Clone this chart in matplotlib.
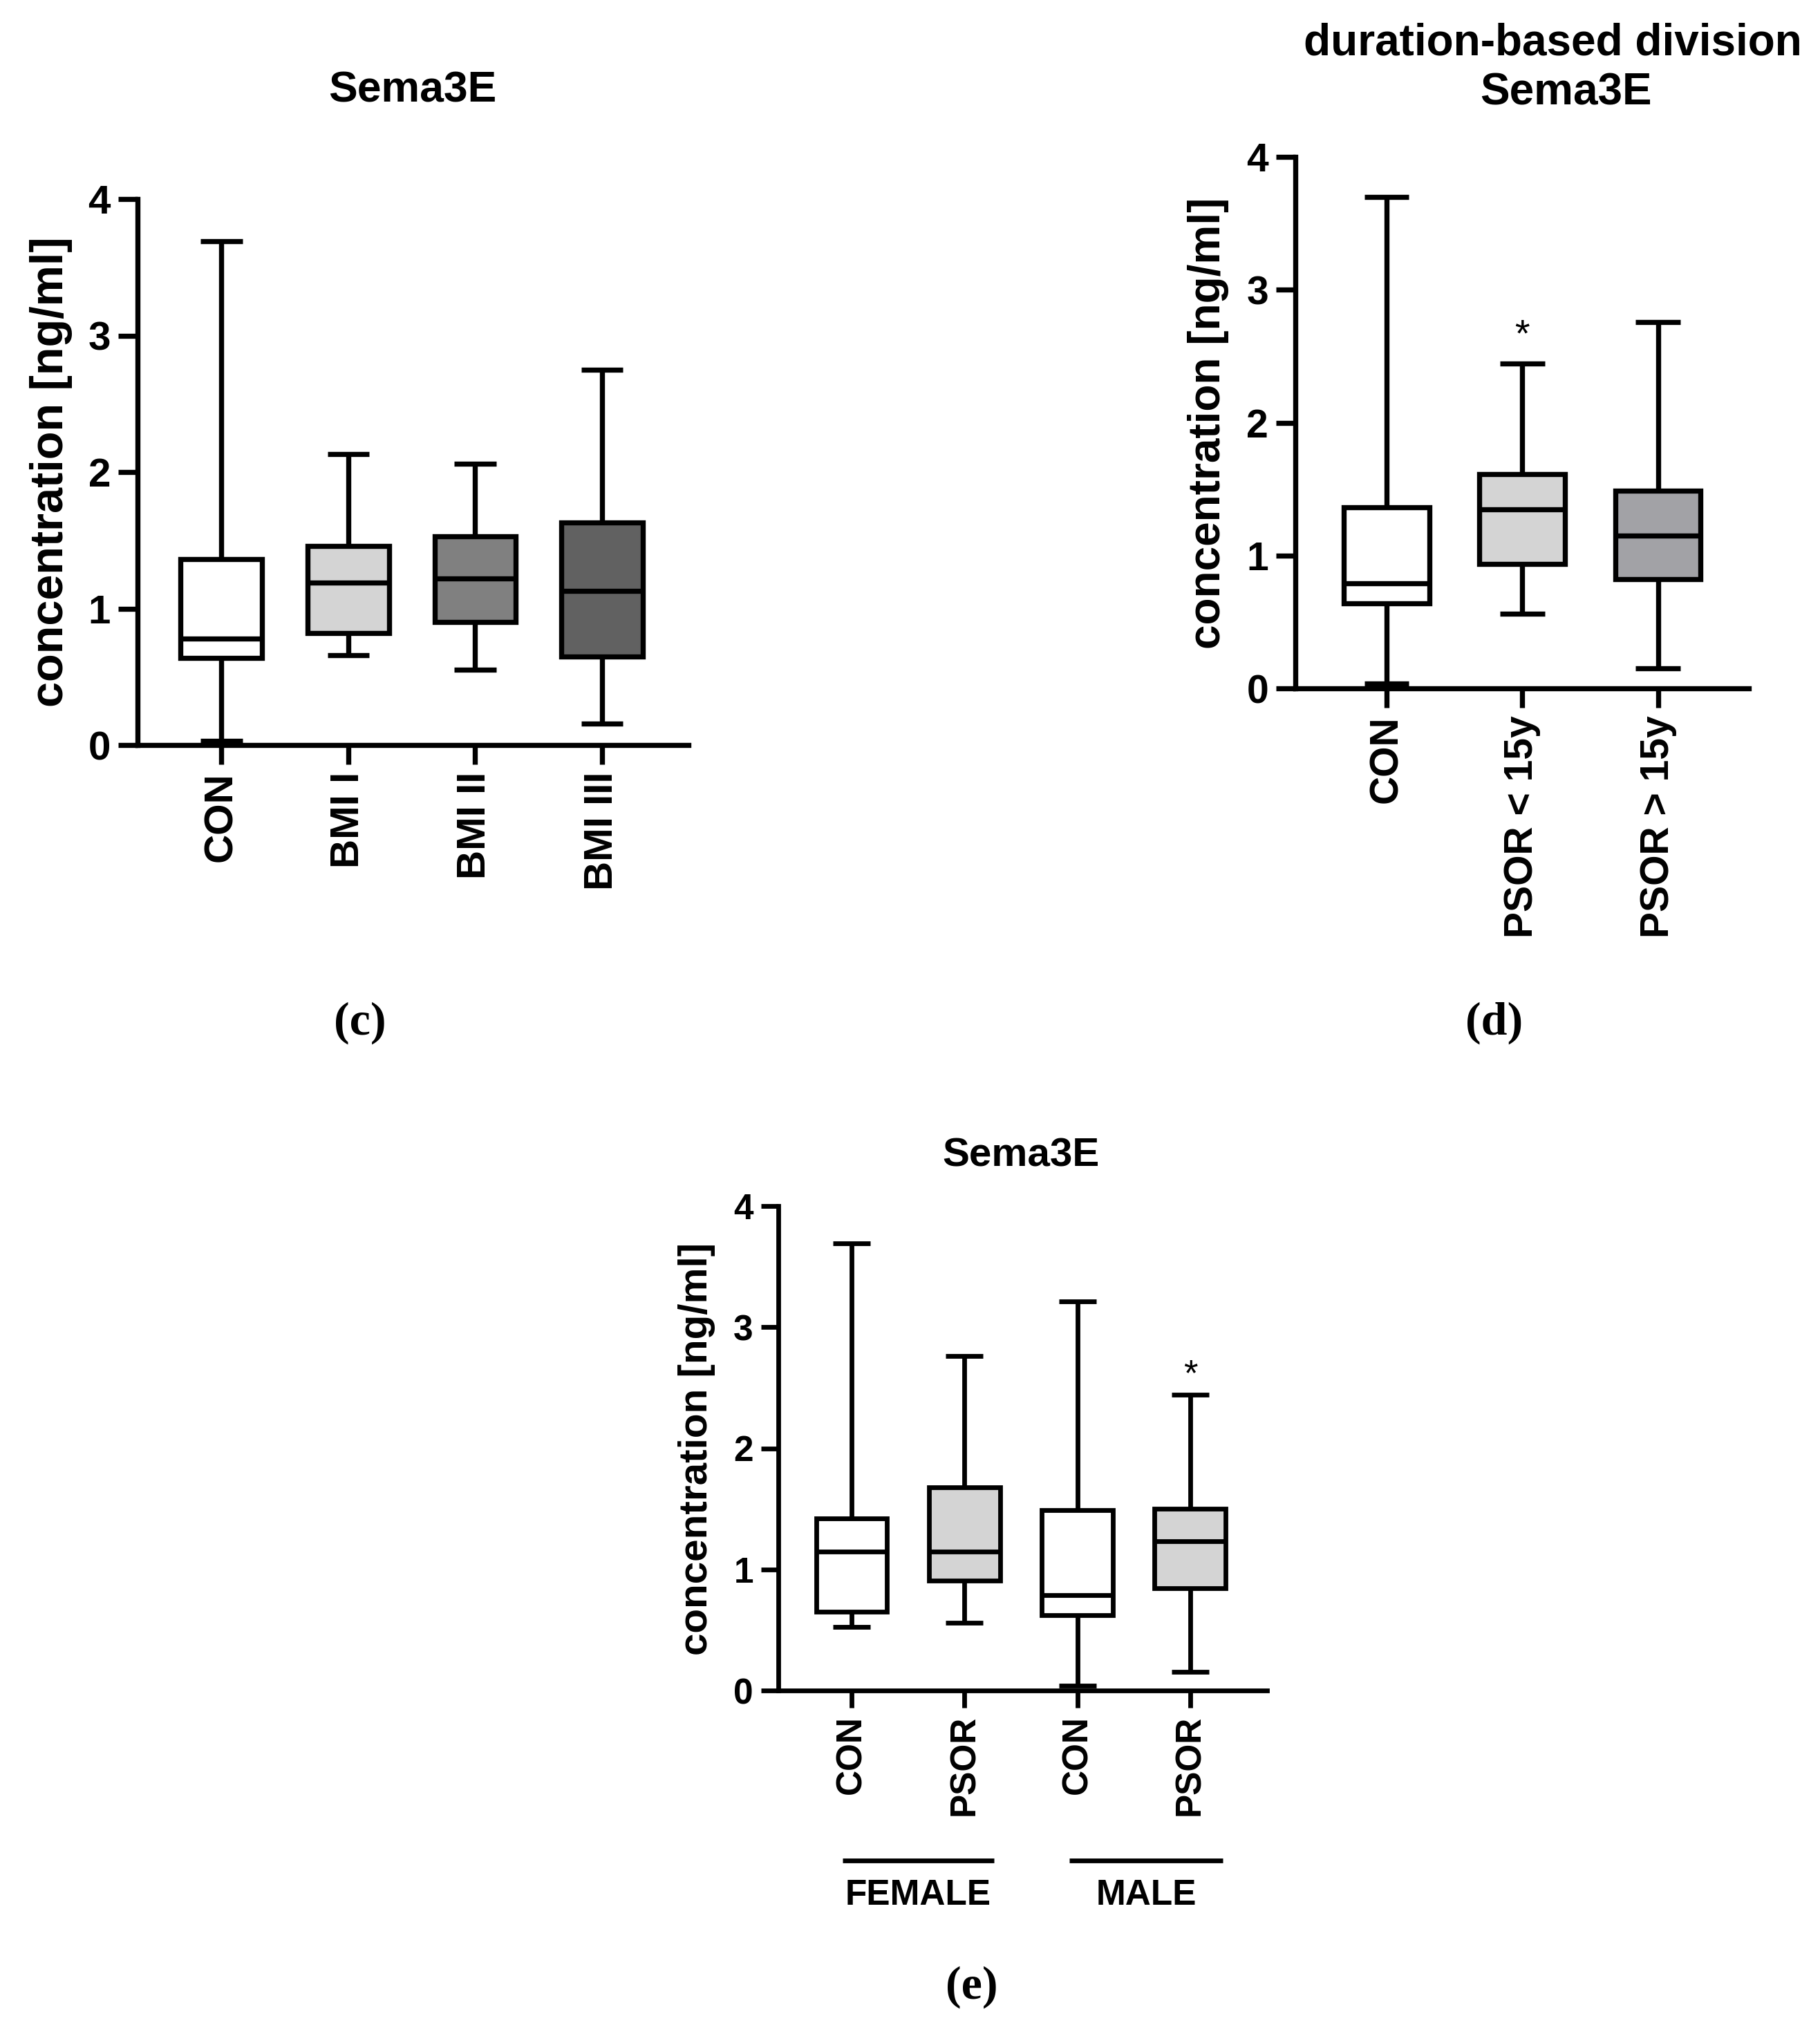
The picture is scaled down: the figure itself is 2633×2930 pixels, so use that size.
import matplotlib
matplotlib.use("Agg")
import matplotlib.pyplot as plt
from matplotlib.transforms import blended_transform_factory

plt.rcParams['font.family'] = ['Liberation Sans', 'DejaVu Sans']
plt.rcParams['font.weight'] = 'bold'

W, H = 2633, 2930

# (c) BMI-based groups
bmi_labels = ["CON", "BMI I", "BMI II", "BMI III"]
bmi_whislo = [0.03, 0.66, 0.55, 0.155]
bmi_q1 = [0.64, 0.82, 0.90, 0.65]
bmi_med = [0.78, 1.19, 1.22, 1.13]
bmi_q3 = [1.36, 1.46, 1.53, 1.63]
bmi_whishi = [3.69, 2.13, 2.06, 2.75]
bmi_colors = ["white", "#d4d4d4", "#808080", "#616161"]

# (d) disease duration groups
dur_labels = ["CON", "PSOR < 15y", "PSOR > 15y"]
dur_whislo = [0.035, 0.56, 0.15]
dur_q1 = [0.64, 0.935, 0.82]
dur_med = [0.79, 1.345, 1.15]
dur_q3 = [1.365, 1.615, 1.49]
dur_whishi = [3.70, 2.445, 2.755]
dur_colors = ["white", "#d4d4d4", "#a2a2a6"]
dur_star = [None, 2.65, None]

# (e) sex groups
sex_labels = ["CON", "PSOR", "CON", "PSOR"]
sex_whislo = [0.525, 0.56, 0.04, 0.155]
sex_q1 = [0.65, 0.91, 0.62, 0.845]
sex_med = [1.145, 1.145, 0.79, 1.23]
sex_q3 = [1.42, 1.68, 1.49, 1.50]
sex_whishi = [3.69, 2.76, 3.21, 2.44]
sex_colors = ["white", "#d4d4d4", "white", "#d4d4d4"]
sex_star = [None, None, None, 2.6]
sex_groups = ["FEMALE", "MALE"]


def fx(px):
    return px / W


def fy(py):
    return 1 - py / H


def box_panel(fig, rect, labels, lo, q1, med, q3, hi, colors, xlim,
              lw=5.3, tick_fs=42, tick_len=20, box_w=0.64, stars=None, star_fs=40):
    ax = fig.add_axes(rect)
    stats = []
    for i in range(len(labels)):
        stats.append(dict(label=labels[i], whislo=lo[i], q1=q1[i], med=med[i],
                          q3=q3[i], whishi=hi[i], fliers=[]))
    pos = list(range(1, len(labels) + 1))
    bp = ax.bxp(stats, positions=pos, widths=box_w, capwidths=0.33,
                patch_artist=True, showfliers=False,
                boxprops=dict(linewidth=lw, edgecolor='black'),
                whiskerprops=dict(linewidth=lw, color='black'),
                capprops=dict(linewidth=lw, color='black'),
                medianprops=dict(linewidth=lw, color='black'))
    for patch, c in zip(bp['boxes'], colors):
        patch.set_facecolor(c)
    for k in ('whiskers', 'caps', 'medians'):
        for art in bp[k]:
            art.set_solid_capstyle('butt')
    if stars:
        for p, s in zip(pos, stars):
            if s is not None:
                ax.text(p, s, '*', ha='center', va='center', fontsize=star_fs,
                        fontweight='normal')
    ax.set_xlim(*xlim)
    ax.set_ylim(0, 4)
    ax.set_yticks([0, 1, 2, 3, 4])
    ax.set_xticks(pos, labels, rotation=90)
    for s in ('top', 'right'):
        ax.spines[s].set_visible(False)
    for s in ('left', 'bottom'):
        ax.spines[s].set_linewidth(lw)
        ax.spines[s].set_capstyle('projecting')
    ax.tick_params(direction='out', length=tick_len, width=lw, labelsize=tick_fs, pad=8)
    return ax


fig = plt.figure(figsize=(W / 100, H / 100), dpi=100)

# panel (c)
ax_c = box_panel(fig, [fx(199), fy(1078), fx(996 - 199), (1078 - 288) / H],
                 bmi_labels, bmi_whislo, bmi_q1, bmi_med, bmi_q3, bmi_whishi,
                 bmi_colors, (0.34, 4.68), tick_fs=42)
fig.text(fx(597), fy(148), "Sema3E", ha='center', va='baseline', fontsize=45)
fig.text(fx(74), fy(683), "concentration [ng/ml]", rotation=90,
         ha='center', va='center', fontsize=48)
fig.text(fx(521), fy(1480), "(c)", ha='center', va='center', fontsize=49,
         family='Liberation Serif')

# panel (d)
ax_d = box_panel(fig, [fx(1874), fy(996), fx(2530 - 1874), (996 - 227) / H],
                 dur_labels, dur_whislo, dur_q1, dur_med, dur_q3, dur_whishi,
                 dur_colors, (0.327, 3.67), tick_fs=41, box_w=0.63, stars=dur_star)
fig.text(fx(2246), fy(80), "duration-based division", ha='center', va='baseline',
         fontsize=46)
fig.text(fx(2265), fy(152), "Sema3E", ha='center', va='baseline', fontsize=46)
fig.text(fx(1748), fy(612), "concentration [ng/ml]", rotation=90,
         ha='center', va='center', fontsize=46)
fig.text(fx(2162), fy(1480), "(d)", ha='center', va='center', fontsize=49,
         family='Liberation Serif')

# panel (e)
ax_e = box_panel(fig, [fx(1126), fy(2446), fx(1833 - 1126), (2446 - 1745) / H],
                 sex_labels, sex_whislo, sex_q1, sex_med, sex_q3, sex_whishi,
                 sex_colors, (0.351, 4.68), lw=4.9, tick_fs=37, tick_len=18,
                 box_w=0.63, stars=sex_star, star_fs=38)
fig.text(fx(1477), fy(1688), "Sema3E", ha='center', va='baseline', fontsize=42)
fig.text(fx(1008), fy(2096), "concentration [ng/ml]", rotation=90,
         ha='center', va='center', fontsize=42)
trans = blended_transform_factory(ax_e.transData, fig.transFigure)
for (x0, x1), name in zip([(0.92, 2.26), (2.93, 4.29)], sex_groups):
    ax_e.plot([x0, x1], [fy(2692), fy(2692)], color='black', lw=4.9,
              transform=trans, clip_on=False, solid_capstyle='butt')
    ax_e.text((x0 + x1) / 2, fy(2756), name, ha='center', va='baseline',
              fontsize=37, transform=trans)
fig.text(fx(1406), fy(2875), "(e)", ha='center', va='center', fontsize=49,
         family='Liberation Serif')

fig.savefig("out.png", dpi=100, facecolor='white')
